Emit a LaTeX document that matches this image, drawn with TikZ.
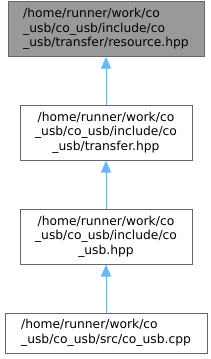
\documentclass[tikz,border=0pt]{standalone}
\usepackage{fontspec}
\setmainfont{DejaVu Sans}
\usepackage{tikz}
\usetikzlibrary{positioning,arrows.meta}
\definecolor{edgeblue}{HTML}{63B8FF}
\definecolor{boxgray}{HTML}{999999}
\definecolor{bordergray}{HTML}{666666}
\tikzset{
  file/.style={draw=bordergray, line width=0.9pt, fill=white, inner sep=0pt,
    font=\fontsize{12.3}{14.5}\selectfont, minimum height=55pt},
  link/.style={-{Triangle[length=12pt,width=10pt]}, draw=edgeblue, fill=edgeblue, line width=0.9pt},
}

\begin{document}
\begin{tikzpicture}[
  x=1pt, y=1pt,
  node distance=48pt
]
\useasboundingbox (0,0) rectangle (211,359);

\node[file, minimum width=202pt, minimum height=40pt, align=left] (cpp) at (106,26)
  {/home/runner/work/co\\\_usb/co\_usb/src/co\_usb.cpp};
\node[file, minimum width=172pt, align=center, above=of cpp] (couhpp)
  {/home/runner/work/co\\\_usb/co\_usb/include/co\\\_usb.hpp};
\node[file, minimum width=172pt, align=center, above=of couhpp] (transfer)
  {/home/runner/work/co\\\_usb/co\_usb/include/co\\\_usb/transfer.hpp};
\node[file, fill=boxgray, minimum width=196pt, align=left, above=of transfer] (resource)
  {/home/runner/work/co\\\_usb/co\_usb/include/co\\\_usb/transfer/resource.hpp};

\draw[link] (cpp) -- (couhpp);
\draw[link] (couhpp) -- (transfer);
\draw[link] (transfer) -- (resource);

\end{tikzpicture}
\end{document}
